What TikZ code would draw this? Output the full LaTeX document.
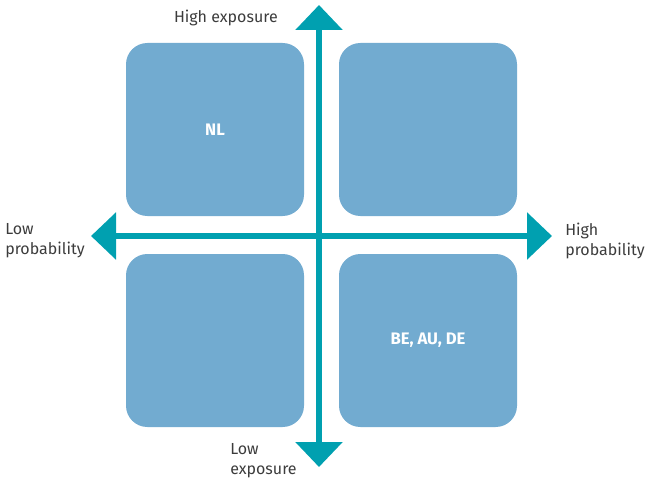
\documentclass[tikz,border=0pt]{standalone}
\usepackage{fontspec}
\setmainfont{Fira Sans}
\usetikzlibrary{arrows.meta}
\usetikzlibrary{positioning}
\definecolor{quadblue}{RGB}{114,171,208}
\definecolor{axisteal}{RGB}{0,160,176}
\definecolor{labelgray}{RGB}{60,60,60}
\tikzset{
    quadrant/.style={
           rectangle,
           rounded corners=16pt,
           fill=quadblue,
           draw=none,
           minimum width=133.5pt,
           minimum height=129.75pt,
           text=white,
           font=\fontsize{12.5}{14}\selectfont\bfseries,
           },
    axis/.style={
           draw=axisteal,
           line width=4.5pt,
           {Triangle[length=18.75pt,width=34.5pt]}-{Triangle[length=18.75pt,width=34.5pt]},
           },
    axislabel/.style={
           text=labelgray,
           align=left,
           inner sep=0pt,
           font=\fontsize{12}{15}\selectfont,
           },
}

\begin{document}
\begin{tikzpicture}[x=0.75pt,y=-0.75pt]
   \useasboundingbox (0,0) rectangle (645,481);

   % the four quadrants
   \node[quadrant] (NL)    at (215,129.5) {\raisebox{-2pt}{NL}};
   \node[quadrant] (HIGHHIGH) at (428,129.5) {};
   \node[quadrant] (LOWLOW)   at (215,340.5) {};
   \node[quadrant] (BEAUDE) at (428,340.5) {BE, AU, DE};

   % end points of the two axes
   \coordinate (TOP)    at (319,5);
   \coordinate (BOTTOM) at (319,467);
   \coordinate (LEFT)   at (91,236);
   \coordinate (RIGHT)  at (552,236);

   \draw[axis] (BOTTOM) -- (TOP);
   \draw[axis] (LEFT) -- (RIGHT);

   % labels at the arrow heads
   \node[axislabel,anchor=east] (HIGHEXP) at (278,18) {High exposure};
   \node[axislabel,anchor=west] (LOWEXP)  at (230,461) {Low\\exposure};
   \node[axislabel,anchor=west] (LOWPROB) at (5,241) {Low\\probability};
   \node[axislabel,anchor=west] (HIGHPROB) at (565,241) {High\\probability};

\end{tikzpicture}
\end{document}
